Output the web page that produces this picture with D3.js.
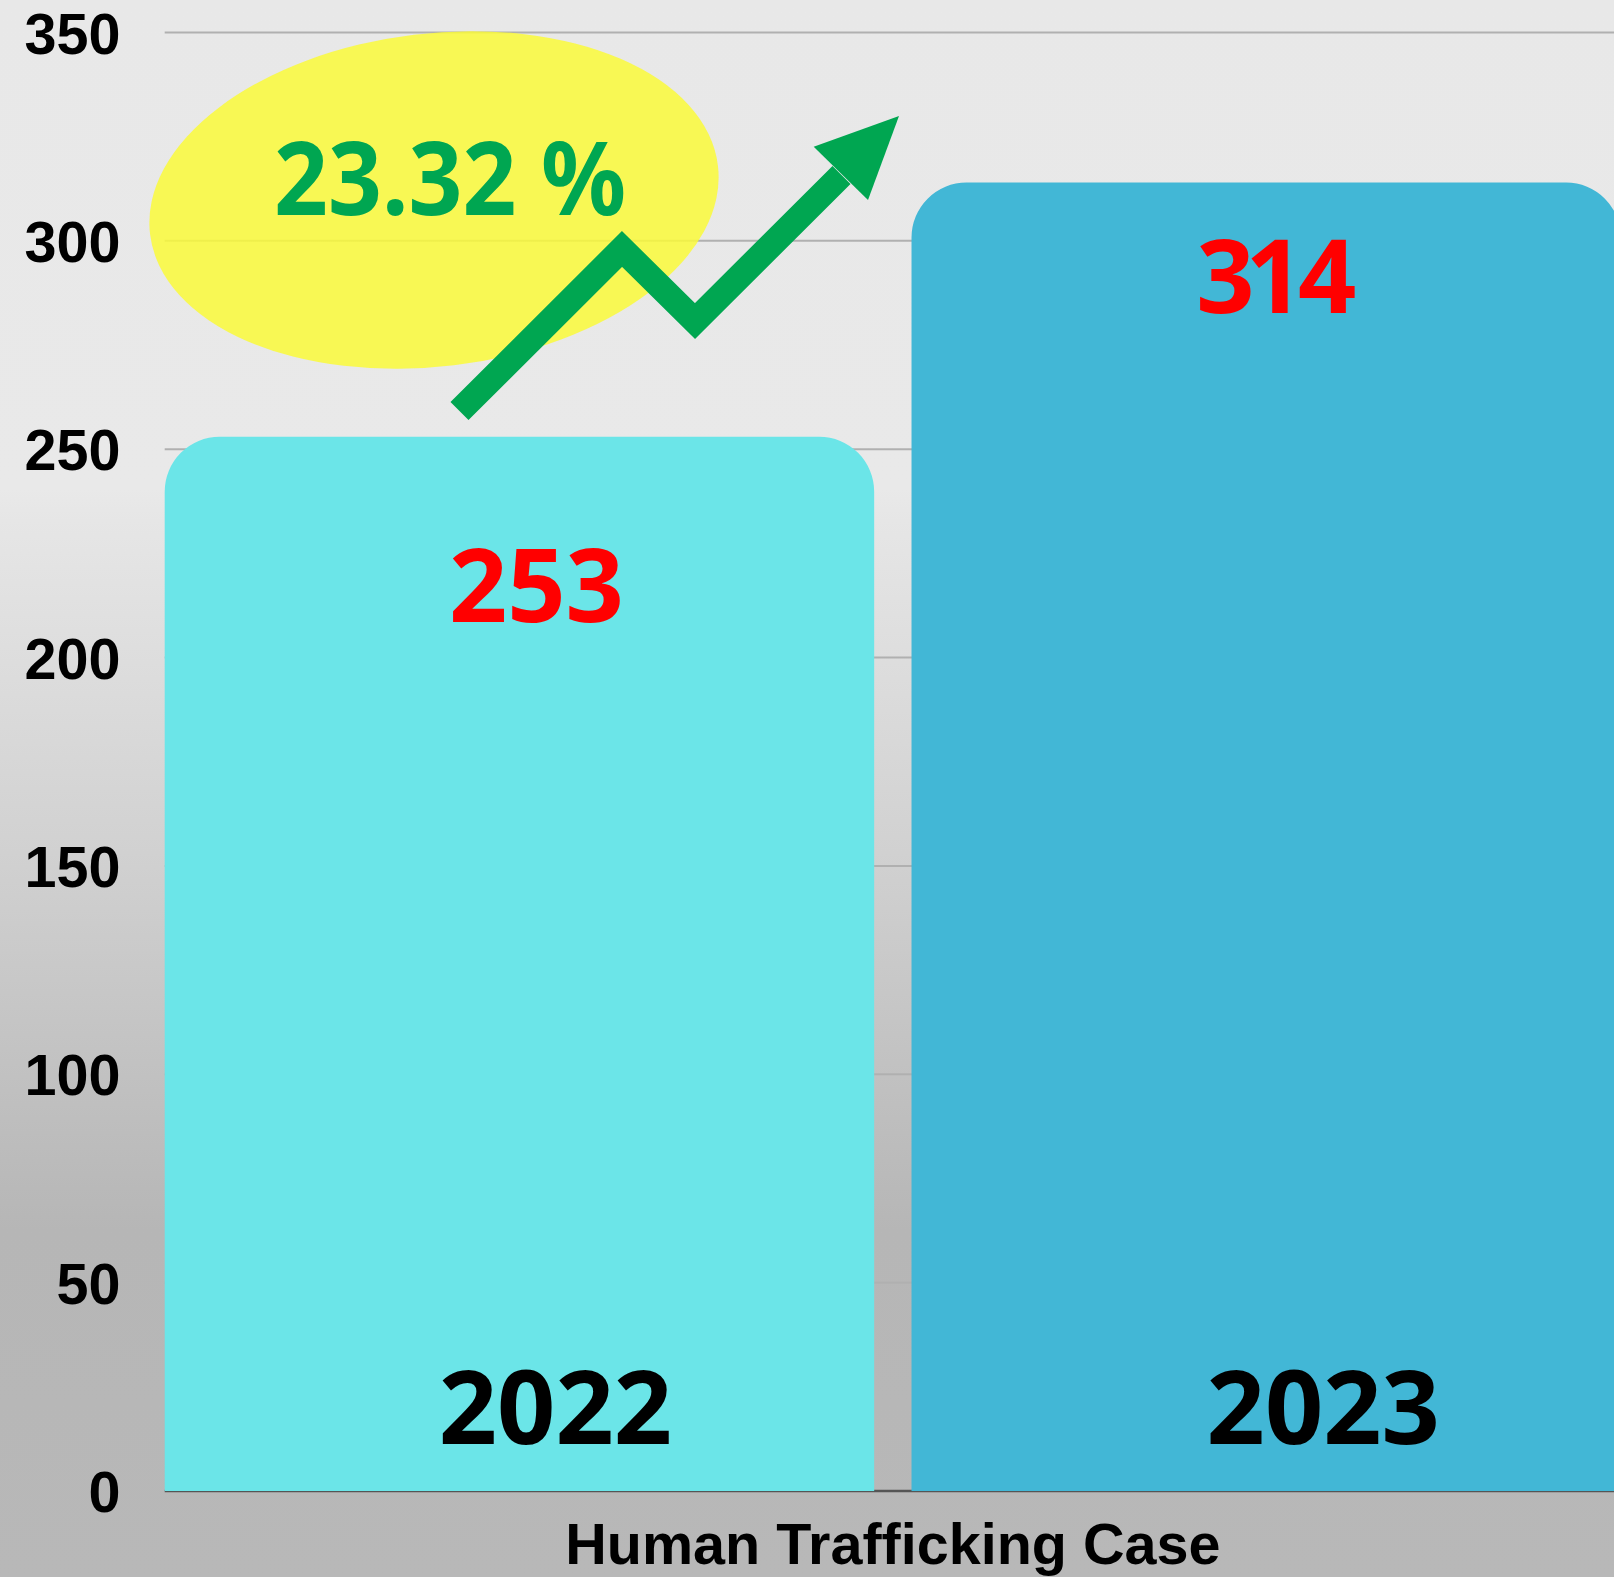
<!DOCTYPE html>
<html>
<head>
<meta charset="utf-8">
<script src="https://cdn.jsdelivr.net/npm/d3@7/dist/d3.min.js"></script>
<style>
  html, body { margin: 0; padding: 0; overflow: hidden; background: #e8e8e8; }
</style>
</head>
<body>
<div id="chart"></div>
<script>
// data
var years = ["2022", "2023"],
    cases = [253, 314],
    yTicks = [0, 50, 100, 150, 200, 250, 300, 350],
    growthLabel = "23.32 %",
    axisTitle = "Human Trafficking Case";

// label nudges (px) – the original places them a bit off centre
var valueDx = [17, 10],
    valueDy = [185, 130],
    valueKern = ["0", "0 -9 -6"],   // the source font has a narrow "1"
    yearDx = [36, 57];

var width = 1614,
    height = 1577,
    plotLeft = 164.7,
    plotRight = 1621,
    plotTop = 32.5,
    plotBottom = 1491,
    barColors = ["#6be5e8", "#42b7d6"],
    green = "#00a651",
    radius = 55;

var svg = d3.select("#chart").append("svg")
  .attr("xmlns", "http://www.w3.org/2000/svg")
  .attr("width", width)
  .attr("height", height);

// background gradient
var grad = svg.append("defs").append("linearGradient")
  .attr("id", "bg")
  .attr("x1", 0).attr("y1", 0).attr("x2", 0).attr("y2", 1);
[[0, "#e8e8e8"], [0.31, "#e9e9e9"], [0.33, "#e6e6e6"], [0.55, "#d0d0d0"], [0.78, "#b6b6b6"], [1, "#b8b8b8"]]
  .forEach(function (s) {
    grad.append("stop").attr("offset", s[0]).attr("stop-color", s[1]);
  });
svg.append("rect")
  .attr("width", width).attr("height", height)
  .attr("fill", "url(#bg)");

var x = d3.scaleBand()
  .domain(years)
  .range([plotLeft, plotRight])
  .paddingInner(0.05)
  .paddingOuter(0);

var y = d3.scaleLinear()
  .domain([0, 350])
  .range([plotBottom, plotTop]);

// gridlines
svg.append("g").selectAll("line")
  .data(yTicks.filter(function (d) { return d > 0; }))
  .enter().append("line")
  .attr("x1", plotLeft).attr("x2", width)
  .attr("y1", function (d) { return y(d); })
  .attr("y2", function (d) { return y(d); })
  .attr("stroke", "#b0b0b0")
  .attr("stroke-width", 2);

// baseline
svg.append("line")
  .attr("x1", plotLeft).attr("x2", width)
  .attr("y1", y(0)).attr("y2", y(0))
  .attr("stroke", "#555")
  .attr("stroke-width", 2.5);

// y axis labels
var yAxis = svg.append("g")
  .attr("transform", "translate(120.5,0)")
  .call(d3.axisLeft(y).tickValues(yTicks).tickSize(0).tickPadding(0));
yAxis.select(".domain").remove();
yAxis.selectAll("text")
  .attr("dy", "0.36em")
  .attr("fill", "#000")
  .style("font-family", "'Liberation Sans', Arial, sans-serif")
  .style("font-weight", "bold")
  .style("font-size", "57.5px");

// highlight ellipse + growth arrow
svg.append("ellipse")
  .attr("cx", 434).attr("cy", 200)
  .attr("rx", 286).attr("ry", 166.5)
  .attr("transform", "rotate(-6.9,434,200)")
  .attr("fill", "#fafa3a")
  .attr("fill-opacity", 0.85);

var arrowPts = [[459.5, 411], [622, 249], [695, 321], [841.5, 175]];
svg.append("path")
  .attr("d", d3.line()(arrowPts))
  .attr("fill", "none")
  .attr("stroke", green)
  .attr("stroke-width", 25.5)
  .attr("stroke-linejoin", "miter")
  .attr("stroke-linecap", "butt");
svg.append("path")
  .attr("d", "M899,116L813.7,146.7L868,200Z")
  .attr("fill", green);

svg.append("text")
  .attr("x", 274).attr("y", 215)
  .attr("fill", green)
  .attr("textLength", 352)
  .attr("lengthAdjust", "spacingAndGlyphs")
  .style("font-family", "'Noto Sans', sans-serif")
  .style("font-weight", "bold")
  .style("font-size", "102px")
  .text(growthLabel);

// bars with rounded top corners
var topRounded = function (x0, y0, w, h, r) {
  return "M" + x0 + "," + (y0 + h) +
    "V" + (y0 + r) +
    "A" + r + "," + r + " 0 0 1 " + (x0 + r) + "," + y0 +
    "H" + (x0 + w - r) +
    "A" + r + "," + r + " 0 0 1 " + (x0 + w) + "," + (y0 + r) +
    "V" + (y0 + h) + "Z";
};

svg.append("g").selectAll("path")
  .data(cases)
  .enter().append("path")
  .attr("d", function (d, i) {
    return topRounded(x(years[i]), y(d), x.bandwidth(), y(0) - y(d), radius);
  })
  .attr("fill", function (d, i) { return barColors[i]; });

// value labels
svg.append("g").selectAll("text")
  .data(cases)
  .enter().append("text")
  .attr("x", function (d, i) { return x(years[i]) + x.bandwidth() / 2 + valueDx[i]; })
  .attr("y", function (d, i) { return y(d) + valueDy[i]; })
  .attr("dx", function (d, i) { return valueKern[i]; })
  .attr("text-anchor", "middle")
  .attr("fill", "#ff0000")
  .style("font-family", "'Noto Sans', sans-serif")
  .style("font-weight", "bold")
  .style("font-size", "102px")
  .text(function (d) { return d; });

// year labels inside bars
svg.append("g").selectAll("text")
  .data(years)
  .enter().append("text")
  .attr("x", function (d, i) { return x(d) + x.bandwidth() / 2 + yearDx[i]; })
  .attr("y", y(0) - 47)
  .attr("text-anchor", "middle")
  .attr("fill", "#000")
  .style("font-family", "'Noto Sans', sans-serif")
  .style("font-weight", "bold")
  .style("font-size", "102px")
  .text(function (d) { return d; });

// axis title
svg.append("text")
  .attr("x", (plotLeft + plotRight) / 2)
  .attr("y", 1564)
  .attr("text-anchor", "middle")
  .attr("fill", "#000")
  .style("font-family", "'Liberation Sans', Arial, sans-serif")
  .style("font-weight", "bold")
  .style("font-size", "57.5px")
  .text(axisTitle);
</script>
</body>
</html>
